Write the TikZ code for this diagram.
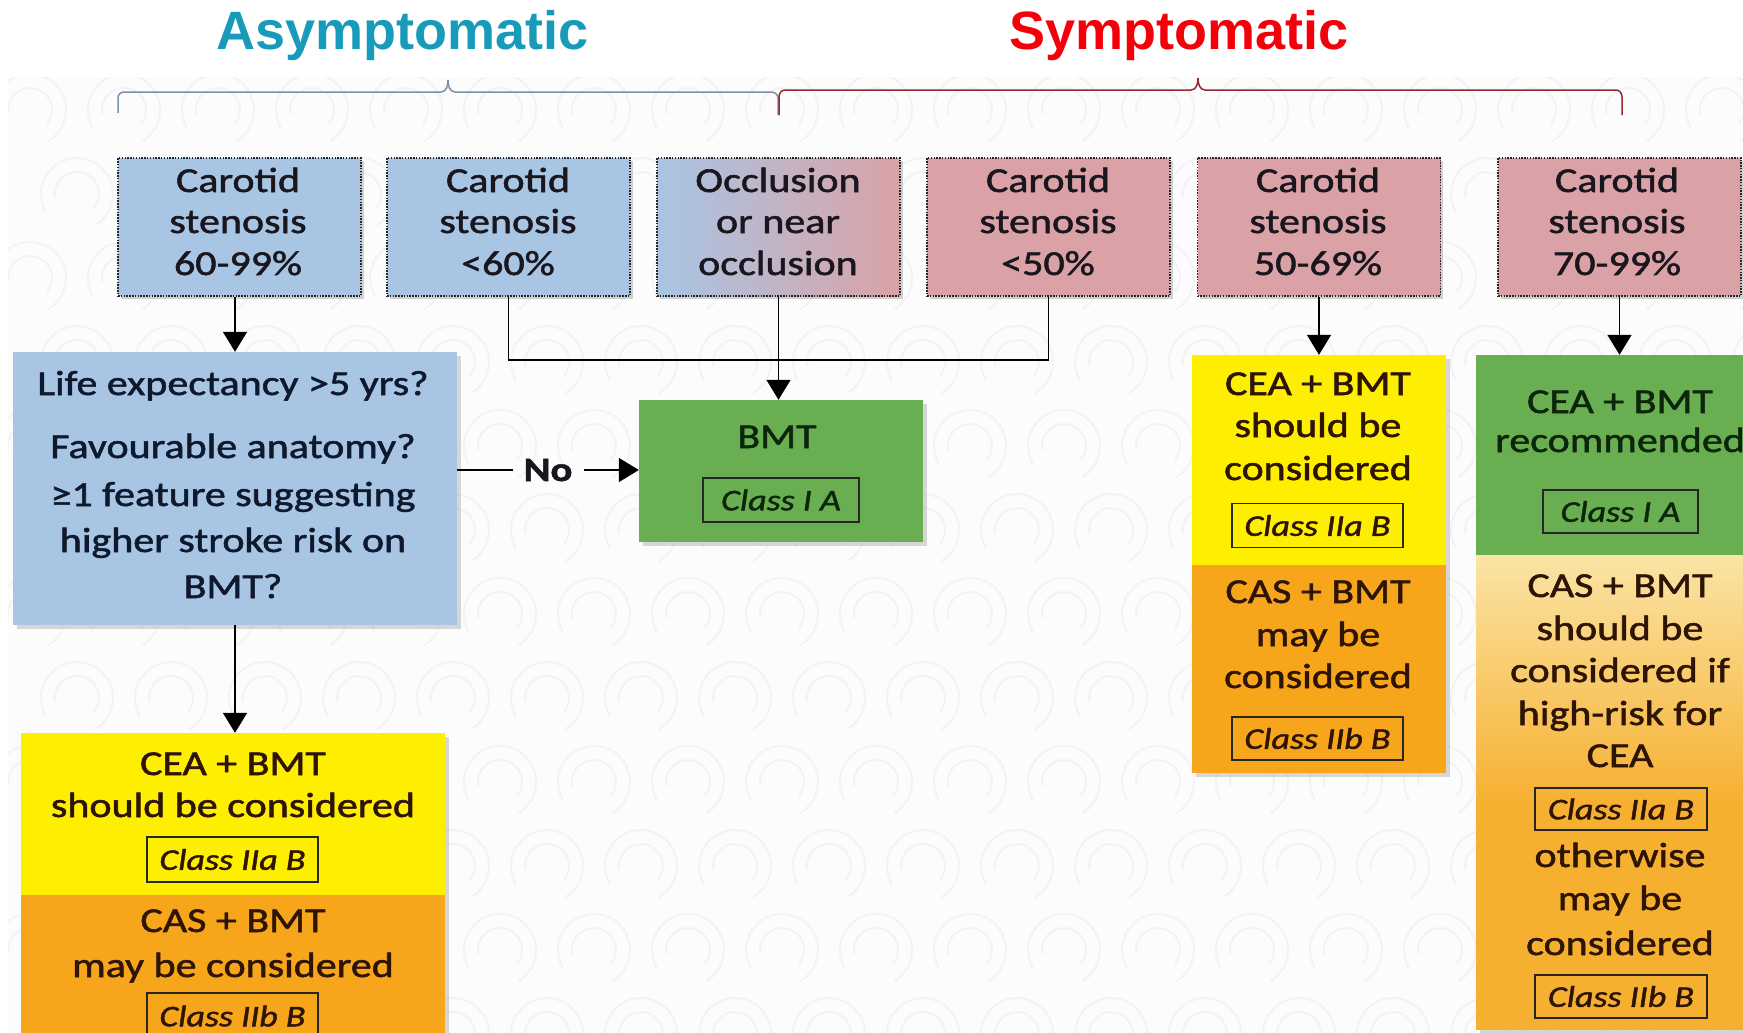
\documentclass[tikz,border=0pt]{standalone}
\usepackage{fontspec}
\setmainfont{Carlito}[FakeStretch=1.2,FakeBold=1.5]
\newfontfamily\titlefont{Liberation Sans}
\usetikzlibrary{arrows.meta,shadows}
\definecolor{bx}{RGB}{168,197,228}
\definecolor{pk}{RGB}{218,162,166}
\definecolor{gr}{RGB}{106,174,82}
\definecolor{yl}{RGB}{254,238,0}
\definecolor{og}{RGB}{247,166,28}
\definecolor{og2}{RGB}{246,176,48}
\definecolor{pale}{RGB}{251,228,165}
\definecolor{txt}{RGB}{25,22,30}
\definecolor{qtxt}{RGB}{15,25,45}
\definecolor{gtxt}{RGB}{12,38,12}
\definecolor{otxt}{RGB}{45,20,5}
\definecolor{asym}{RGB}{24,155,186}
\definecolor{symc}{RGB}{244,0,10}
\definecolor{bbr}{RGB}{125,145,170}
\definecolor{rbr}{RGB}{150,40,55}
\definecolor{bgc}{RGB}{252,252,252}
\definecolor{patc}{RGB}{243,243,245}
\newcommand{\txtline}[4]{\node[ln] (#1) at (#2,#3) {#4};}
\begin{document}
\begin{tikzpicture}[x=1pt,y=-1pt,
 ln/.style={anchor=base, inner sep=0pt, text=txt, font=\fontsize{35}{40}\selectfont},
 topbox/.style={draw=black!85, line width=1.4pt, dash pattern=on 1.5pt off 1.3pt, minimum width=243pt, minimum height=138pt, inner sep=0pt, drop shadow={shadow xshift=2.5pt, shadow yshift=-2.5pt, opacity=0.35}},
 flatbox/.style={inner sep=0pt, draw=none},
 shd/.style={drop shadow={shadow xshift=4pt, shadow yshift=-4pt, opacity=0.3}},
 cls/.style={draw=black!85, line width=1.3pt, inner sep=0pt, text=txt, font=\fontsize{30}{34}\selectfont\itshape},
 conn/.style={line width=1.6pt, draw=black, -{Triangle[width=24pt,length=20pt]}},
 wire/.style={line width=1.6pt, draw=black},
 pat/.style={draw=patc, line width=2pt},
 ttl/.style={anchor=base, inner sep=0pt, font=\titlefont\bfseries\fontsize{54}{60}\selectfont}]
\clip (0,0) rectangle (1743,1033);
\fill[white] (0,0) rectangle (1743,1033);
\fill[bgc] (8,78) rectangle (1743,1033);
\begin{scope}
\clip (8,78) rectangle (1743,1033);
\foreach \r in {0,...,11}{\foreach \c in {0,...,19}{
  \draw[pat] ({\c*94+mod(\r,2)*47+30},{\r*84+110}) ++(150:36) arc[start angle=150,end angle=420,radius=36];
  \draw[pat] ({\c*94+mod(\r,2)*47+30},{\r*84+110}) ++(170:22) arc[start angle=170,end angle=400,radius=22];
}}
\end{scope}

% titles
\node[ttl, text=asym] (tasym) at (403,49) {Asymptomatic};
\node[ttl, text=symc] (tsym) at (1179,49) {Symptomatic};

% brackets
\draw[bbr, line width=1.5pt] (118,113) -- (118,98) to[out=90,in=180] (124,92) -- (441,92) to[out=0,in=-90] (448,80) to[out=-90,in=180] (455,92) -- (771,92) to[out=0,in=90] (778,98) -- (778,115);
\draw[rbr, line width=1.5pt] (779,115) -- (779,97) to[out=90,in=180] (785,90) -- (1191,90) to[out=0,in=-90] (1198,78) to[out=-90,in=180] (1205,90) -- (1616,90) to[out=0,in=90] (1622,97) -- (1622,115);

% top boxes
\node[topbox, fill=bx] (b1) at (239.5,227) {};
\node[topbox, fill=bx] (b2) at (508.5,227) {};
\node[topbox, left color=bx, right color=pk, middle color=bx!50!pk] (b3) at (778.5,227) {};
\node[topbox, fill=pk] (b4) at (1048.5,227) {};
\node[topbox, fill=pk] (b5) at (1319,227) {};
\node[topbox, fill=pk] (b6) at (1619.5,227) {};

\txtline{b1a}{238}{192}{Carotid}
\txtline{b1b}{238}{233}{stenosis}
\txtline{b1c}{238}{275}{60-99\%}
\txtline{b2a}{508}{192}{Carotid}
\txtline{b2b}{508}{233}{stenosis}
\txtline{b2c}{508}{275}{<60\%}
\txtline{b3a}{778}{192}{Occlusion}
\txtline{b3b}{778}{233}{or near}
\txtline{b3c}{778}{275}{occlusion}
\txtline{b4a}{1048}{192}{Carotid}
\txtline{b4b}{1048}{233}{stenosis}
\txtline{b4c}{1048}{275}{<50\%}
\txtline{b5a}{1318}{192}{Carotid}
\txtline{b5b}{1318}{233}{stenosis}
\txtline{b5c}{1318}{275}{50-69\%}
\txtline{b6a}{1617}{192}{Carotid}
\txtline{b6b}{1617}{233}{stenosis}
\txtline{b6c}{1617}{275}{70-99\%}

% question box
\node[flatbox, fill=bx, shd, minimum width=444pt, minimum height=273pt] (q) at (235,488.5) {};
\begin{scope}[ln/.append style={text=qtxt}]
\txtline{q1}{233}{395}{Life expectancy >5 yrs?}
\txtline{q2}{233}{458}{Favourable anatomy?}
\txtline{q3}{233}{506}{≥1 feature suggesting}
\txtline{q4}{233}{552}{higher stroke risk on}
\txtline{q5}{233}{598}{BMT?}
\end{scope}

% BMT box
\node[flatbox, fill=gr, shd, minimum width=284pt, minimum height=142pt] (bmt) at (781,471) {};
\begin{scope}[ln/.append style={text=gtxt}, cls/.append style={text=gtxt}]
\txtline{bmtt}{777}{448}{BMT}
\node[cls, minimum width=156pt, minimum height=44pt] (bmtc) at (781,500) {Class I A};
\end{scope}

% bottom-left stack
\node[flatbox, fill=og, shd, minimum width=424pt, minimum height=320pt] (s1) at (233,893) {};
\node[flatbox, fill=yl, minimum width=424pt, minimum height=162pt] (yl1) at (233,814) {};
\begin{scope}[ln/.append style={text=otxt}, cls/.append style={text=otxt}]
\txtline{s1a}{233}{775}{CEA + BMT}
\txtline{s1b}{233}{817}{should be considered}
\node[cls, minimum width=171pt, minimum height=45pt] (s1c) at (232.5,859.5) {Class IIa B};
\txtline{s1d}{233}{932}{CAS + BMT}
\txtline{s1e}{233}{977}{may be considered}
\node[cls, minimum width=171pt, minimum height=46pt] (s1f) at (232.5,1016) {Class IIb B};
\end{scope}

% 50-69 stack
\node[flatbox, fill=og, shd, minimum width=254pt, minimum height=418pt] (s2) at (1319,564) {};
\node[flatbox, fill=yl, minimum width=254pt, minimum height=210pt] (yl2) at (1319,460) {};
\begin{scope}[ln/.append style={text=otxt}, cls/.append style={text=otxt}]
\txtline{s2a}{1318}{395}{CEA + BMT}
\txtline{s2b}{1318}{437}{should be}
\txtline{s2c}{1318}{480}{considered}
\node[cls, minimum width=171pt, minimum height=44pt] (s2d) at (1317.5,525.5) {Class IIa B};
\txtline{s2e}{1318}{603}{CAS + BMT}
\txtline{s2f}{1318}{646}{may be}
\txtline{s2g}{1318}{688}{considered}
\node[cls, minimum width=171pt, minimum height=43pt] (s2h) at (1317.5,738.5) {Class IIb B};
\end{scope}

% 70-99 stack
\node[flatbox, fill=og2, shd, minimum width=290pt, minimum height=675pt] (s3) at (1621,692.5) {};
\node[flatbox, top color=pale, bottom color=og2, minimum width=290pt, minimum height=250pt] (s3g) at (1621,680) {};
\node[flatbox, fill=gr, minimum width=290pt, minimum height=200pt] (gr3) at (1621,455) {};
\begin{scope}[ln/.append style={text=gtxt}, cls/.append style={text=gtxt}]
\txtline{s3a}{1620}{413}{CEA + BMT}
\txtline{s3b}{1620}{452}{recommended}
\node[cls, minimum width=155pt, minimum height=43pt] (s3c) at (1620.5,511.5) {Class I A};
\end{scope}
\begin{scope}[ln/.append style={text=otxt}, cls/.append style={text=otxt}]
\txtline{s3d}{1620}{597}{CAS + BMT}
\txtline{s3e}{1620}{640}{should be}
\txtline{s3f}{1620}{682}{considered if}
\txtline{s3g2}{1620}{725}{high-risk for}
\txtline{s3h}{1620}{767}{CEA}
\node[cls, minimum width=172pt, minimum height=42pt] (s3i) at (1621,809) {Class IIa B};
\txtline{s3j}{1620}{867}{otherwise}
\txtline{s3k}{1620}{910}{may be}
\txtline{s3l}{1620}{955}{considered}
\node[cls, minimum width=172pt, minimum height=43pt] (s3m) at (1621,996.5) {Class IIb B};
\end{scope}

% connectors
\draw[conn] (q.north |- b1.south) -- (q.north);
\draw[conn] (q.south) -- (q.south |- yl1.north);
\coordinate (jn) at (778.5,360);
\draw[wire] (b2.south) |- (jn) -| (b4.south);
\draw[conn] (b3.south) -- (b3.south |- bmt.north);
\coordinate (nl) at (513,470);
\coordinate (nr) at (584,470);
\draw[wire] (q.east |- nl) -- (nl);
\node[anchor=base, inner sep=0pt, text=txt, font=\fontsize{34}{40}\selectfont\bfseries] (no) at (548,481) {No};
\draw[conn] (nr) -- (nr -| bmt.west);
\draw[conn] (b5.south) -- (b5.south |- yl2.north);
\draw[conn] (b6.south) -- (b6.south |- gr3.north);
\end{tikzpicture}
\end{document}
